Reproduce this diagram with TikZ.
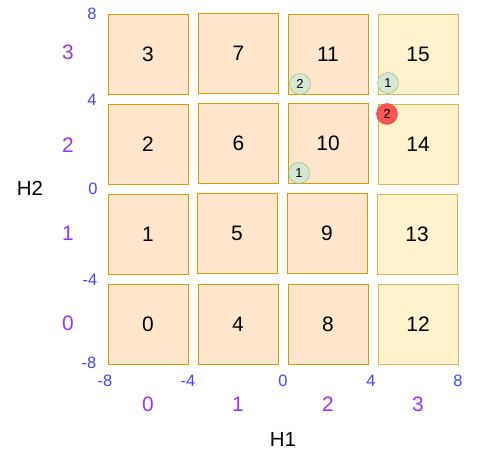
\documentclass[tikz,border=0pt]{standalone}
\usepackage{fontspec}
\setmainfont{Liberation Sans}
\usetikzlibrary{positioning}

\definecolor{cellfill}{HTML}{FFE6CC}
\definecolor{celldraw}{HTML}{D79B00}
\definecolor{lastfill}{HTML}{FFF2CC}
\definecolor{lastdraw}{HTML}{D6B656}
\definecolor{pointfill}{HTML}{D5E8D4}
\definecolor{pointdraw}{HTML}{82B366}
\definecolor{hitfill}{HTML}{FF5555}
\definecolor{hitdraw}{HTML}{D04040}
\definecolor{tickblue}{HTML}{4444FF}
\definecolor{binpurple}{HTML}{9933FF}

\tikzset{
    cell/.style={draw=celldraw, fill=cellfill, minimum size=80bp, inner sep=0pt, font=\fontsize{21}{25}\selectfont},
    lastcell/.style={cell, draw=lastdraw, fill=lastfill},
    point/.style={circle, draw=pointdraw, fill=pointfill, minimum size=21bp, inner sep=0pt, font=\fontsize{13}{15}\selectfont},
    hit/.style={point, draw=hitdraw, fill=hitfill},
    tick/.style={text=tickblue, inner sep=0pt, font=\fontsize{16.5}{19}\selectfont},
    bin/.style={text=binpurple, inner sep=0pt, font=\fontsize{21}{25}\selectfont},
    axisname/.style={inner sep=0pt, font=\fontsize{20.5}{24}\selectfont}
}

\begin{document}
\begin{tikzpicture}[x=1bp, y=-1bp]
    \useasboundingbox (0,0) rectangle (489,456);

    % grid cells
    \node [cell] (c3) at (148,54) {3};   \node [cell] (c7) at (238.5,53) {7};
    \node [cell] (c11) at (328,54) {11}; \node [lastcell] (c15) at (418,54) {15};
    \node [cell] (c2) at (148,144) {2};  \node [cell] (c6) at (238.5,143) {6};
    \node [cell] (c10) at (328,143) {10}; \node [lastcell] (c14) at (418,144) {14};
    \node [cell] (c1) at (148,234) {1};  \node [cell] (c5) at (237,233) {5};
    \node [cell] (c9) at (327,233) {9};  \node [lastcell] (c13) at (417,234) {13};
    \node [cell] (c0) at (148,324) {0};  \node [cell] (c4) at (238,324) {4};
    \node [cell] (c8) at (328,324) {8};  \node [lastcell] (c12) at (418,324) {12};

    % points
    \node [point] (p2a) at (300,84) {2};
    \node [point] (p1a) at (388,83) {1};
    \node [hit] (p2b) at (387,114) {2};
    \node [point] (p1b) at (299,173) {1};

    % H2 ticks
    \node [tick] (ty8) at (92,14) {8};
    \node [tick] (ty4) at (92,100) {4};
    \node [tick] (ty0) at (93,189) {0};
    \node [tick] (tym4) at (90,280) {-4};
    \node [tick] (tym8) at (89,363) {-8};

    % H1 ticks
    \node [tick] (tx8m) at (105,381) {-8};
    \node [tick] (tx4m) at (188,381) {-4};
    \node [tick] (tx0) at (283,381) {0};
    \node [tick] (tx4) at (371,381) {4};
    \node [tick] (tx8) at (458,381) {8};

    % bins
    \node [bin] (by3) at (68,52) {3};  \node [bin] (by2) at (68,145) {2};
    \node [bin] (by1) at (68,233) {1}; \node [bin] (by0) at (68,323) {0};
    \node [bin] (bx0) at (148,404) {0}; \node [bin] (bx1) at (238,404) {1};
    \node [bin] (bx2) at (328,404) {2}; \node [bin] (bx3) at (418,404) {3};

    \node [axisname] (h2) at (30,188) {H2};
    \node [axisname] (h1) at (283,439) {H1};
\end{tikzpicture}
\end{document}
